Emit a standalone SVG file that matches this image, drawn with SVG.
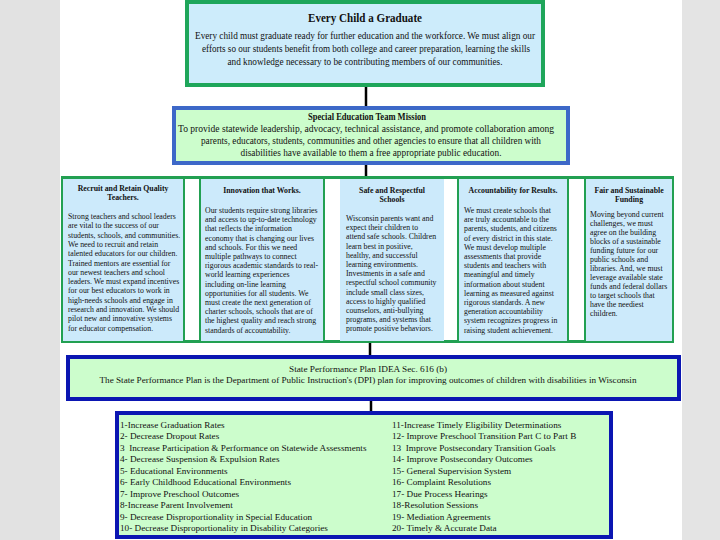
<svg xmlns="http://www.w3.org/2000/svg" width="720" height="540" viewBox="0 0 720 540">
<style>
text{font-family:"Liberation Serif","Times New Roman",serif;fill:#111}
.t{font-weight:bold;text-anchor:middle}
.c{text-anchor:middle}
.ct{font-weight:bold;text-anchor:middle;font-size:7.8px}
.cb{font-size:7.8px}
.li{font-size:9.2px}
.conn{stroke:#000;stroke-width:2.5;fill:none}
.g{fill:#cceafb}
.gl{stroke:#22a052;stroke-width:2;fill:none}
</style>
<rect x="0" y="0" width="720" height="540" fill="#ffffff"/>
<rect x="0" y="0" width="60" height="540" fill="#e2e2e2"/>
<rect x="682" y="0" width="38" height="540" fill="#e4e4e4"/>

<g id="connectors">
<line class="conn" x1="366" y1="87" x2="366" y2="106"/>
<line class="conn" x1="366" y1="165" x2="366" y2="176"/>
<line class="conn" x1="370" y1="343" x2="370" y2="355"/>
<line class="conn" x1="371" y1="401" x2="371" y2="411"/>
</g>

<g id="every-child">
<rect x="187" y="2" width="356" height="83" fill="#cdecfb" stroke="#1ea65a" stroke-width="4"/>
<text class="t" x="365" y="22" font-size="12" textLength="114" lengthAdjust="spacingAndGlyphs">Every Child a Graduate</text>
<text class="c" x="365" y="38.5" font-size="10" textLength="340" lengthAdjust="spacingAndGlyphs">Every child must graduate ready for further education and the workforce. We must align our</text>
<text class="c" x="366" y="51.5" font-size="10" textLength="328" lengthAdjust="spacingAndGlyphs">efforts so our students benefit from both college and career preparation, learning the skills</text>
<text class="c" x="365" y="64.5" font-size="10" textLength="275" lengthAdjust="spacingAndGlyphs">and knowledge necessary to be contributing members of our communities.</text>
</g>

<g id="mission">
<rect x="174" y="108" width="394" height="55" fill="#ccfdcc" stroke="#3d68c8" stroke-width="4"/>
<text class="t" x="367" y="120" font-size="9.5" textLength="118" lengthAdjust="spacingAndGlyphs">Special Education Team Mission</text>
<text class="c" x="366" y="132" font-size="9.5" textLength="376" lengthAdjust="spacingAndGlyphs">To provide statewide leadership, advocacy, technical assistance, and promote collaboration among</text>
<text class="c" x="371" y="144" font-size="9.5" textLength="340" lengthAdjust="spacingAndGlyphs">parents, educators, students, communities and other agencies to ensure that all children with</text>
<text class="c" x="371" y="156" font-size="9.5" textLength="261" lengthAdjust="spacingAndGlyphs">disabilities have available to them a free appropriate public education.</text>
</g>

<g id="priorities">
<rect x="62.5" y="177.5" width="610" height="164" fill="#ffffff" stroke="#22a052" stroke-width="3"/>
<rect class="g" x="63" y="179" width="121" height="162"/>
<rect class="g" x="200" y="179" width="124" height="162"/>
<rect class="g" x="340" y="179" width="104" height="162"/>
<rect class="g" x="458" y="179" width="110" height="162"/>
<rect class="g" x="585" y="179" width="87" height="162"/>
<line class="gl" x1="184" y1="178" x2="184" y2="342"/>
<line class="gl" x1="200" y1="178" x2="200" y2="342"/>
<line class="gl" x1="324" y1="178" x2="324" y2="342"/>
<line class="gl" x1="458" y1="178" x2="458" y2="342"/>
<line class="gl" x1="568" y1="178" x2="568" y2="342"/>
<line class="gl" x1="585" y1="178" x2="585" y2="342"/>
</g>

<g id="col-teachers">
<text class="ct" x="123" y="191">Recruit and Retain Quality</text>
<text class="ct" x="123" y="200">Teachers.</text>
<text class="cb" x="68" y="219">Strong teachers and school leaders</text>
<text class="cb" x="68" y="228.3">are vital to the success of our</text>
<text class="cb" x="68" y="237.6">students, schools, and communities.</text>
<text class="cb" x="68" y="246.9">We need to recruit and retain</text>
<text class="cb" x="68" y="256.2">talented educators for our children.</text>
<text class="cb" x="68" y="265.5">Trained mentors are essential for</text>
<text class="cb" x="68" y="274.8">our newest teachers and school</text>
<text class="cb" x="68" y="284.1">leaders. We must expand incentives</text>
<text class="cb" x="68" y="293.4">for our best educators to work in</text>
<text class="cb" x="68" y="302.7">high-needs schools and engage in</text>
<text class="cb" x="68" y="312">research and innovation. We should</text>
<text class="cb" x="68" y="321.3">pilot new and innovative systems</text>
<text class="cb" x="68" y="330.6">for educator compensation.</text>
</g>

<g id="col-innovation">
<text class="ct" x="262" y="193">Innovation that Works.</text>
<text class="cb" x="205" y="213">Our students require strong libraries</text>
<text class="cb" x="205" y="222.2">and access to up-to-date technology</text>
<text class="cb" x="205" y="231.4">that reflects the information</text>
<text class="cb" x="205" y="240.6">economy that is changing our lives</text>
<text class="cb" x="205" y="249.8">and schools. For this we need</text>
<text class="cb" x="205" y="259">multiple pathways to connect</text>
<text class="cb" x="205" y="268.2">rigorous academic standards to real-</text>
<text class="cb" x="205" y="277.4">world learning experiences</text>
<text class="cb" x="205" y="286.6">including on-line learning</text>
<text class="cb" x="205" y="295.8">opportunities for all students. We</text>
<text class="cb" x="205" y="305">must create the next generation of</text>
<text class="cb" x="205" y="314.2">charter schools, schools that are of</text>
<text class="cb" x="205" y="323.4">the highest quality and reach strong</text>
<text class="cb" x="205" y="332.6">standards of accountability.</text>
</g>

<g id="col-safe">
<text class="ct" x="392" y="193">Safe and Respectful</text>
<text class="ct" x="392" y="202">Schools</text>
<text class="cb" x="346" y="221">Wisconsin parents want and</text>
<text class="cb" x="346" y="230.2">expect their children to</text>
<text class="cb" x="346" y="239.4">attend safe schools. Children</text>
<text class="cb" x="346" y="248.6">learn best in positive,</text>
<text class="cb" x="346" y="257.8">healthy, and successful</text>
<text class="cb" x="346" y="267">learning environments.</text>
<text class="cb" x="346" y="276.2">Investments in a safe and</text>
<text class="cb" x="346" y="285.4">respectful school community</text>
<text class="cb" x="346" y="294.6">include small class sizes,</text>
<text class="cb" x="346" y="303.8">access to highly qualified</text>
<text class="cb" x="346" y="313">counselors, anti-bullying</text>
<text class="cb" x="346" y="322.2">programs, and systems that</text>
<text class="cb" x="346" y="331.4">promote positive behaviors.</text>
</g>

<g id="col-accountability">
<text class="ct" x="513" y="193">Accountability for Results.</text>
<text class="cb" x="464" y="213">We must create schools that</text>
<text class="cb" x="464" y="222.2">are truly accountable to the</text>
<text class="cb" x="464" y="231.4">parents, students, and citizens</text>
<text class="cb" x="464" y="240.6">of every district in this state.</text>
<text class="cb" x="464" y="249.8">We must develop multiple</text>
<text class="cb" x="464" y="259">assessments that provide</text>
<text class="cb" x="464" y="268.2">students and teachers with</text>
<text class="cb" x="464" y="277.4">meaningful and timely</text>
<text class="cb" x="464" y="286.6">information about student</text>
<text class="cb" x="464" y="295.8">learning as measured against</text>
<text class="cb" x="464" y="305">rigorous standards. A new</text>
<text class="cb" x="464" y="314.2">generation accountability</text>
<text class="cb" x="464" y="323.4">system recognizes progress in</text>
<text class="cb" x="464" y="332.6">raising student achievement.</text>
</g>

<g id="col-funding">
<text class="ct" x="629" y="193">Fair and Sustainable</text>
<text class="ct" x="629" y="202">Funding</text>
<text class="cb" x="590" y="217">Moving beyond current</text>
<text class="cb" x="590" y="226">challenges, we must</text>
<text class="cb" x="590" y="235">agree on the building</text>
<text class="cb" x="590" y="244">blocks of a sustainable</text>
<text class="cb" x="590" y="253">funding future for our</text>
<text class="cb" x="590" y="262">public schools and</text>
<text class="cb" x="590" y="271">libraries. And, we must</text>
<text class="cb" x="590" y="280">leverage available state</text>
<text class="cb" x="590" y="289">funds and federal dollars</text>
<text class="cb" x="590" y="298">to target schools that</text>
<text class="cb" x="590" y="307">have the neediest</text>
<text class="cb" x="590" y="316">children.</text>
</g>

<g id="spp">
<rect x="68" y="357" width="611" height="42" fill="#ccfdcc" stroke="#0b16b2" stroke-width="4"/>
<text class="c" x="368" y="372" font-size="9" textLength="158" lengthAdjust="spacingAndGlyphs">State Performance Plan IDEA Sec. 616 (b)</text>
<text class="c" x="368" y="382.5" font-size="9" textLength="537" lengthAdjust="spacingAndGlyphs">The State Performance Plan is the Department of Public Instruction's (DPI) plan for improving outcomes of children with disabilities in Wisconsin</text>
</g>

<g id="indicators">
<rect x="117" y="413" width="494" height="124" fill="#ccfdcc" stroke="#0b16b2" stroke-width="4"/>
<text class="li" x="120" y="428">1-Increase Graduation Rates</text>
<text class="li" x="120" y="439.4">2- Decrease Dropout Rates</text>
<text class="li" x="120" y="450.9">3&#160; Increase Participation &amp; Performance on Statewide Assessments</text>
<text class="li" x="120" y="462.3">4- Decrease Suspension &amp; Expulsion Rates</text>
<text class="li" x="120" y="473.8">5- Educational Environments</text>
<text class="li" x="120" y="485.2">6- Early Childhood Educational Environments</text>
<text class="li" x="120" y="496.7">7- Improve Preschool Outcomes</text>
<text class="li" x="120" y="508.1">8-Increase Parent Involvement</text>
<text class="li" x="120" y="519.6">9- Decrease Disproportionality in Special Education</text>
<text class="li" x="120" y="531">10- Decrease Disproportionality in Disability Categories</text>
<text class="li" x="392" y="428">11-Increase Timely Eligibility Determinations</text>
<text class="li" x="392" y="439.4">12- Improve Preschool Transition Part C to Part B</text>
<text class="li" x="392" y="450.9">13&#160; Improve Postsecondary Transition Goals</text>
<text class="li" x="392" y="462.3">14- Improve Postsecondary Outcomes</text>
<text class="li" x="392" y="473.8">15- General Supervision System</text>
<text class="li" x="392" y="485.2">16- Complaint Resolutions</text>
<text class="li" x="392" y="496.7">17- Due Process Hearings</text>
<text class="li" x="392" y="508.1">18-Resolution Sessions</text>
<text class="li" x="392" y="519.6">19- Mediation Agreements</text>
<text class="li" x="392" y="531">20- Timely &amp; Accurate Data</text>
</g>
</svg>
